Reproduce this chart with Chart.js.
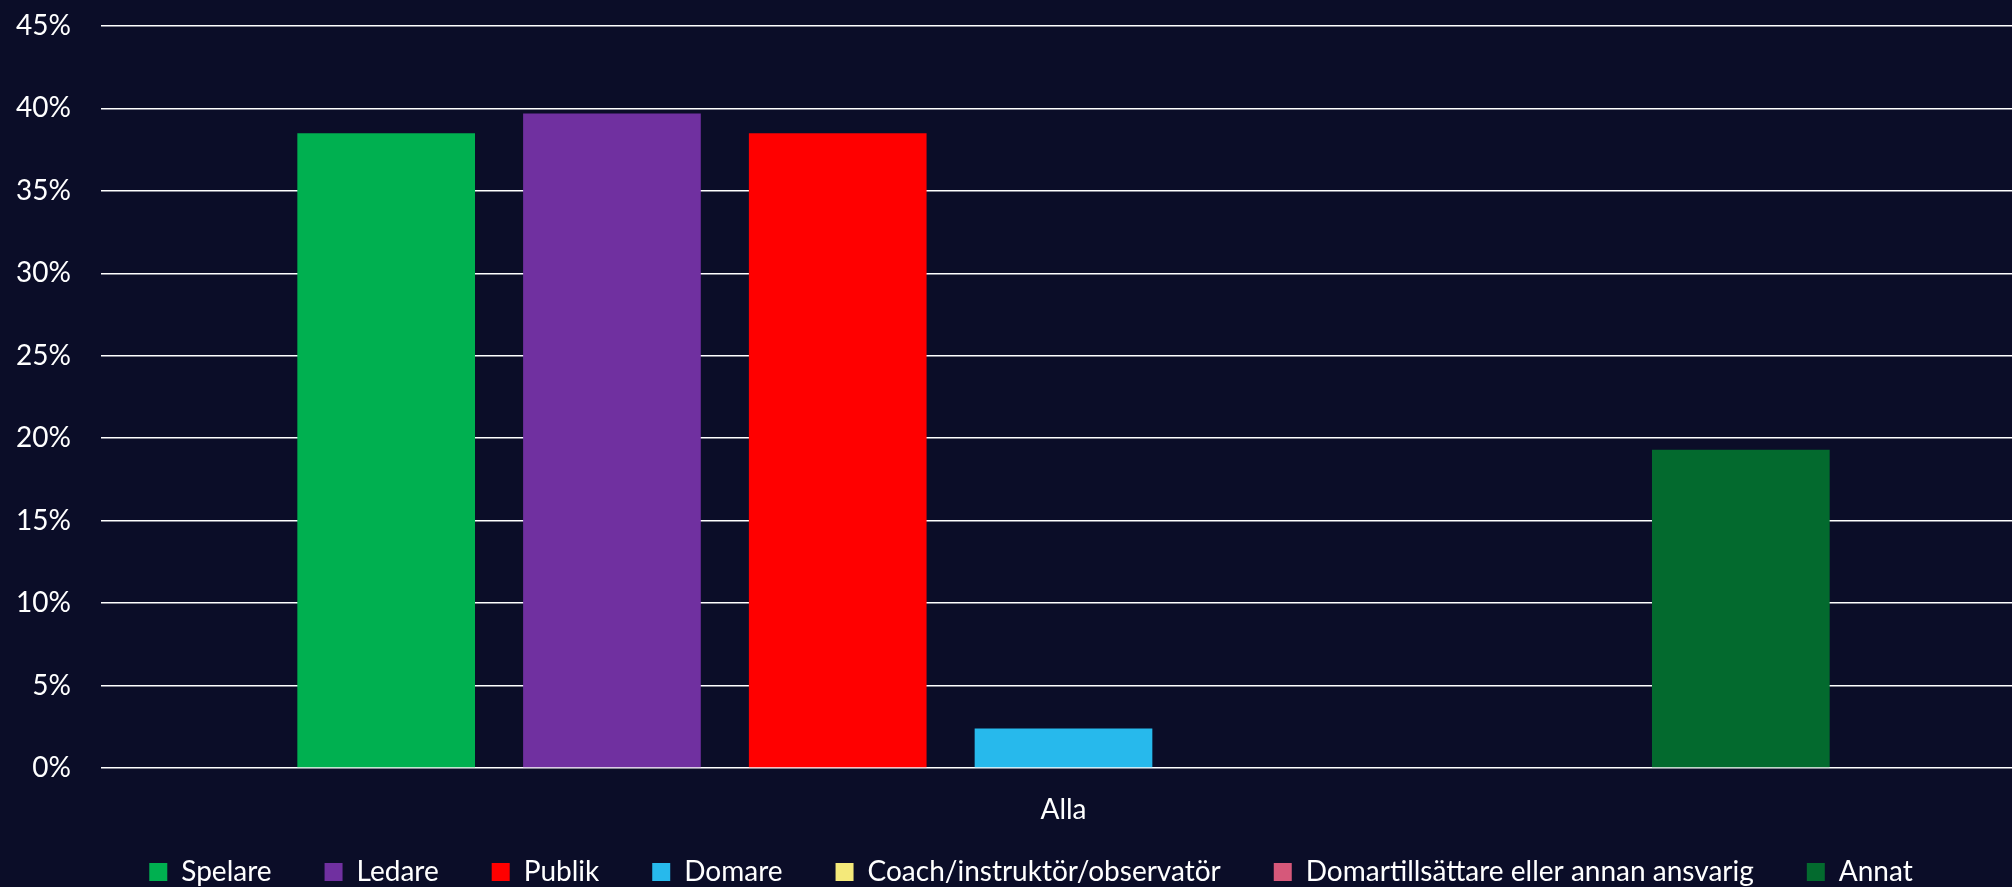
<!DOCTYPE html>
<html>
<head>
<meta charset="utf-8">
<script src="https://cdn.jsdelivr.net/npm/chart.js@4/dist/chart.umd.min.js"></script>
<style>
  html, body { margin: 0; padding: 0; background: #0b0d28; }
  #wrap { width: 2012px; height: 887px; }
</style>
</head>
<body>
<div id="wrap"><canvas id="c"></canvas></div>
<script>
const categories = ['Alla'];
const seriesNames = ['Spelare', 'Ledare', 'Publik', 'Domare', 'Coach/instruktör/observatör', 'Domartillsättare eller annan ansvarig', 'Annat'];
const spelare = [0.385];
const ledare = [0.397];
const publik = [0.385];
const domare = [0.024];
const coach = [0];
const domartillsattare = [0];
const annat = [0.193];
const seriesColors = ['#00b050', '#7030a0', '#ff0000', '#27b9ec', '#f4e97a', '#d6587a', '#036a2e'];
const yTicks = [0, 0.05, 0.10, 0.15, 0.20, 0.25, 0.30, 0.35, 0.40, 0.45];

const seriesValues = [spelare, ledare, publik, domare, coach, domartillsattare, annat];
const FONT = 'Lato, "Open Sans", sans-serif';
const FS = 28;
const LEG_PAD = 53;

const bgPlugin = {
  id: 'bg',
  beforeDraw(chart) {
    const ctx = chart.ctx;
    ctx.save();
    ctx.fillStyle = '#0b0d28';
    ctx.fillRect(0, 0, chart.width, chart.height);
    ctx.restore();
  }
};

const legendPlace = {
  id: 'legendPlace',
  afterInit(chart) {
    const lg = chart.legend;
    const origFit = lg.fit.bind(lg);
    lg.fit = function () { origFit(); this.height = 47; };
  },
  afterLayout(chart) {
    // extend the plot area a little past the right edge, like the reference
    const extra = 14;
    chart.chartArea.right += extra;
    chart.chartArea.width += extra;
    const xs = chart.scales.x;
    xs.right += extra;
    xs.width += extra;
    xs.configure();
    const ys = chart.scales.y;
    ys.configure();

    const lg = chart.legend;
    const shift = 25;
    lg.left += shift; lg.right += shift;
    lg.top = 874 - LEG_PAD - 16;
    lg.bottom = chart.height;
    lg.height = lg.bottom - lg.top;
  }
};

new Chart(document.getElementById('c'), {
  type: 'bar',
  data: {
    labels: categories,
    datasets: seriesNames.map((name, i) => ({
      label: name,
      data: seriesValues[i],
      backgroundColor: seriesColors[i],
      borderWidth: 0,
      barPercentage: 0.787,
      categoryPercentage: 0.821
    }))
  },
  options: {
    responsive: true,
    maintainAspectRatio: false,
    animation: false,
    devicePixelRatio: 1,
    layout: { padding: { left: 0, right: 0, top: 26, bottom: 0 } },
    plugins: {
      legend: {
        position: 'bottom',
        labels: {
          color: '#ffffff',
          font: { family: FONT, size: FS },
          boxWidth: 18,
          boxHeight: 18,
          padding: LEG_PAD
        }
      },
      tooltip: { enabled: false }
    },
    scales: {
      x: {
        grid: { display: false },
        border: { display: false },
        ticks: { color: '#ffffff', font: { family: FONT, size: FS }, padding: 17 },
        afterFit(scale) { scale.height = 72; }
      },
      y: {
        min: 0,
        max: 0.45,
        afterBuildTicks(axis) { axis.ticks = yTicks.map(v => ({ value: v })); },
        afterFit(scale) { scale.width = 101; scale.paddingTop = 0; scale.paddingBottom = 0; },
        grid: { color: '#ffffff', lineWidth: 1.6, drawTicks: false },
        border: { display: false },
        ticks: {
          color: '#ffffff',
          font: { family: FONT, size: FS },
          padding: 30,
          callback: v => Math.round(v * 100) + '%'
        }
      }
    }
  },
  plugins: [bgPlugin, legendPlace]
});
</script>
</body>
</html>
